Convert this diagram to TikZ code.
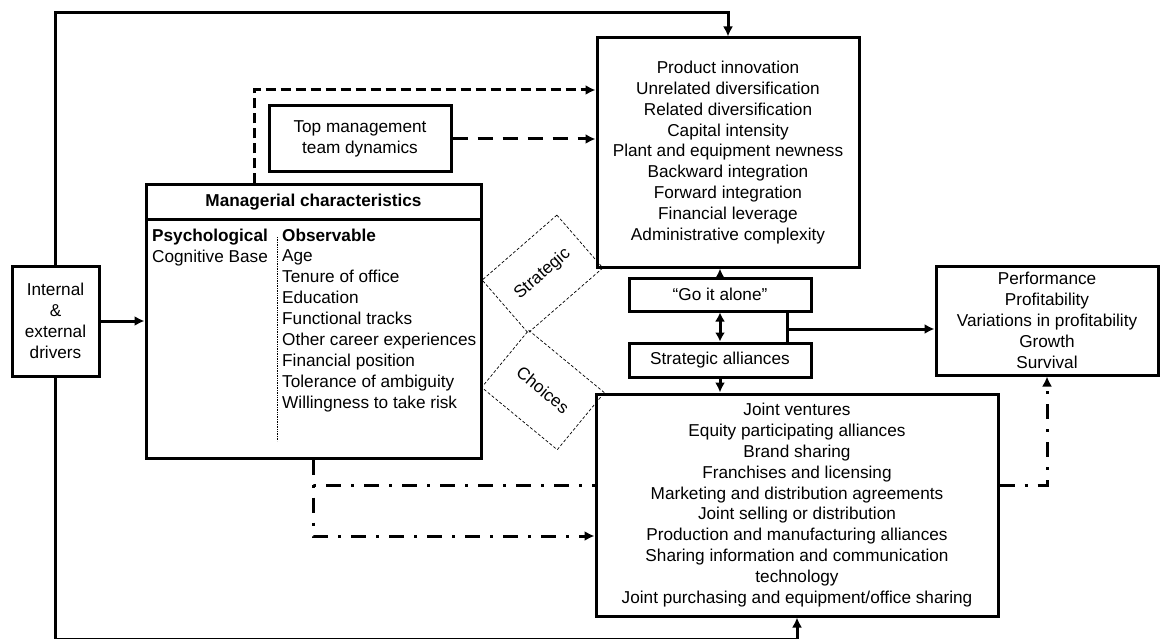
\documentclass[tikz,border=0pt]{standalone}
\usepackage{fontspec}
\setmainfont{Liberation Sans}
\usetikzlibrary{arrows.meta,calc,positioning}
\tikzset{%
	box/.style       = {draw, line width=3pt, fill=white, align=center, inner sep=0pt},
	choice/.style    = {draw, line width=0.7pt, dash pattern=on 3pt off 2pt, align=center, inner sep=0pt},
	item/.style      = {anchor=base west, inner sep=0pt},
	line/.style      = {line width=3pt},
	arrow/.style     = {line width=3pt, -{Latex[length=10pt,width=10pt]}},
	dblarrow/.style  = {line width=3pt, {Latex[length=9pt,width=10pt]}-{Latex[length=9pt,width=10pt]}},
	dasharrow/.style = {arrow, dash pattern=on 10pt off 5pt},
	longdash/.style  = {arrow, dash pattern=on 15pt off 10pt},
	dotline/.style   = {line, dash pattern=on 15pt off 10pt on 3pt off 10pt},
	dotarrow/.style  = {arrow, dash pattern=on 15pt off 10pt on 3pt off 10pt},
}

\begin{document}
\begin{tikzpicture}[x=1pt, y=-1pt, font=\fontsize{17.2}{20.9}\selectfont]
	\useasboundingbox (0,0) rectangle (1162,639);

	% boxes
	\node[box, minimum width=87, minimum height=110] (drivers) at (55.5,321) {Internal\\\&\\external\\drivers};
	\node[box, minimum width=335, minimum height=35] (mchead) at (313.5,202.5) {\textbf{Managerial characteristics}};
	\node[box, minimum width=335, minimum height=238] (mcbody) at (313.5,339) {};
	\node[box, minimum width=182, minimum height=66] (topmgmt) at (360,139) {Top management\\team dynamics};
	\node[box, minimum width=262, minimum height=229] (strategy) at (728,152.5) {Product innovation\\Unrelated diversification\\Related diversification\\Capital intensity\\Plant and equipment newness\\Backward integration\\Forward integration\\Financial leverage\\Administrative complexity};
	\node[box, minimum width=182, minimum height=33] (alone) at (720,294.5) {“Go it alone”};
	\node[box, minimum width=182, minimum height=34] (alliances) at (720,360) {Strategic alliances};
	\node[box, minimum width=222, minimum height=109] (perf) at (1047,320.5) {Performance\\Profitability\\Variations in profitability\\Growth\\Survival};
	\node[box, minimum width=402, minimum height=222] (joint) at (797,505) {Joint ventures\\Equity participating alliances\\Brand sharing\\Franchises and licensing\\Marketing and distribution agreements\\Joint selling or distribution\\Production and manufacturing alliances\\Sharing information and communication\\technology\\Joint purchasing and equipment/office sharing};

	% strategic choices
	\node[choice, rotate=41, minimum width=99, minimum height=70] (strat) at (542.5,274) {Strategic};
	\node[choice, rotate=-39.5, minimum width=98, minimum height=74] (choices) at (543,390) {Choices};

	% managerial characteristics
	\node[item] (psyhead) at (152,241) {\textbf{Psychological}};
	\node[item] (psycog) at (152,262) {Cognitive Base};
	\node[item] (obshead) at (282,241) {\textbf{Observable}};
	\foreach \t [count=\i] in {Age, Tenure of office, Education, Functional tracks, Other career experiences, Financial position, Tolerance of ambiguity, Willingness to take risk}
		\node[item] (obs\i) at (282,{241+20.9*\i}) {\t};
	\draw[line width=0.7pt, densely dotted] (277,237) -- (277,441);

	% connectors
	\coordinate (looptop) at (0,13);
	\coordinate (loopbot) at (0,639.9);
	\coordinate (dashtop) at (254,90);
	\coordinate (fork) at (787,329);
	\coordinate (ddA) at (0,485);
	\coordinate (ddB) at (0,536);
	\draw[arrow] (drivers.north) -- (drivers.north |- looptop) -| (strategy.north);
	\draw[arrow] (drivers.south) -- (drivers.south |- loopbot) -| (joint.south);
	\draw[arrow] (drivers.east) -- (drivers.east -| mcbody.west);
	\draw[dasharrow] (mchead.north -| dashtop) -- (dashtop) -- (dashtop -| strategy.west);
	\draw[longdash] (topmgmt.east) -- (topmgmt.east -| strategy.west);
	\draw[arrow] (alone.north) -- (alone.north |- strategy.south);
	\draw[dblarrow] (alone.south) -- (alliances.north);
	\draw[arrow] (alliances.south) -- (alliances.south |- joint.north);
	\draw[line] (fork |- alone.south) -- (fork |- alliances.north);
	\draw[arrow] (fork) -- (fork -| perf.west);
	\draw[dotline] (mcbody.south) |- (ddA -| joint.west);
	\draw[dotarrow] (ddA -| joint.east) -| (perf.south);
	\draw[dotarrow] (mcbody.south) |- (ddB -| joint.west);
\end{tikzpicture}
\end{document}
